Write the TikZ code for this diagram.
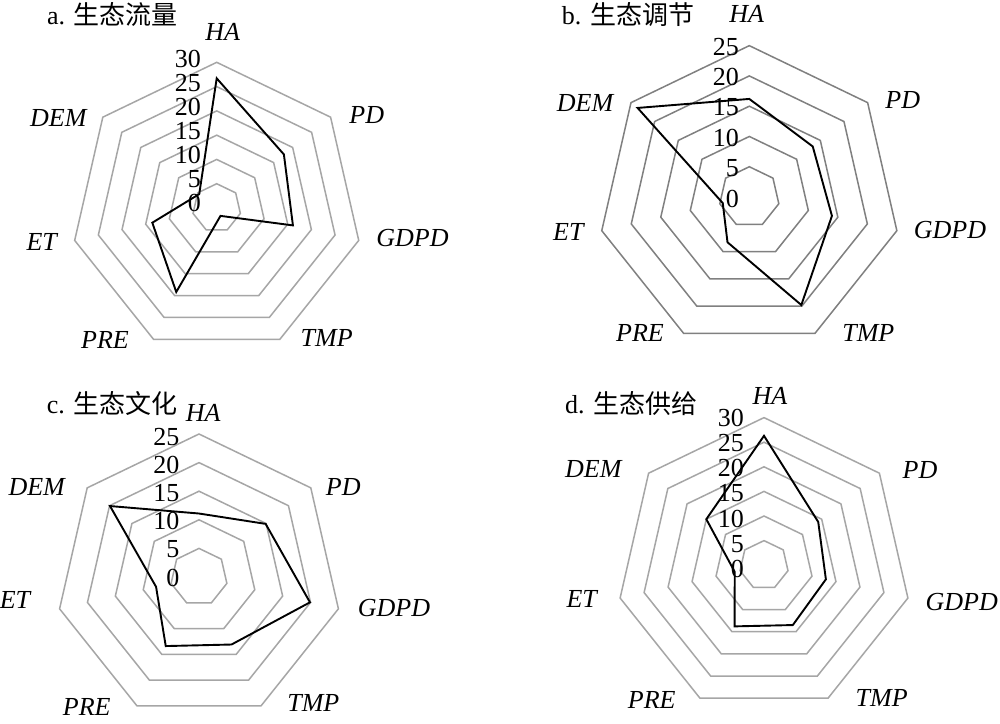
\documentclass[tikz,border=0pt]{standalone}
\usepackage{fontspec}
\setmainfont{Liberation Serif}
\newfontfamily\cjk{Noto Sans CJK SC}
\begin{document}
\begin{tikzpicture}[x=1pt,y=1pt,
  lbl/.style={font=\fontsize{26}{30}\selectfont, inner sep=0pt},
  axl/.style={inner sep=0pt, font=\fontsize{26}{30}\selectfont\itshape},
  ticklbl/.style={lbl, anchor=east},
  ttl/.style={lbl, anchor=west},
  ringA/.style={draw=black!35, line width=1.5pt},
  ringB/.style={draw=black!50, line width=1.5pt},
  dataline/.style={draw=black, line width=1.9pt, line join=miter}]
\fill[white] (0,0) rectangle (1000,-723);
\useasboundingbox (0,0) rectangle (1000,-723);

% ---------- panel a ----------
\begin{scope}[shift={(216.7,-208)}]
  \foreach \i in {1,...,6}{\draw[ringA] (90:{\i*24.28}) \foreach \k in {1,...,6}{ -- ({90-\k*360/7}:{\i*24.28})} -- cycle;}
  \draw[dataline] (90:{26.7*4.856}) -- (38.571:{17.7*4.856}) -- (-12.857:{16.1*4.856}) -- (-64.286:{1.8*4.856}) -- (-115.714:{19.2*4.856}) -- (-167.143:{13.6*4.856}) -- (141.429:{4.6*4.856}) -- cycle;
\end{scope}
\foreach \v [count=\j from 0] in {0,5,...,30} \node[ticklbl] (a\v) at (201,{-(203.3-\j*24.0)}) {\v};
\node[ttl] (ta) at (47,-15) {a. {\cjk 生态流量}};
\node[axl] (aHA) at (222.7,-31.7) {HA};
\node[axl] (aPD) at (366.7,-115) {PD};
\node[axl] (aGDPD) at (412.5,-238.3) {GDPD};
\node[axl] (aTMP) at (326.7,-338) {TMP};
\node[axl] (aPRE) at (105,-340) {PRE};
\node[axl] (aET) at (41.7,-241.7) {ET};
\node[axl] (aDEM) at (58.3,-118.3) {DEM};

% ---------- panel b ----------
\begin{scope}[shift={(749.3,-197)}]
  \foreach \i in {1,...,5}{\draw[ringB] (90:{\i*30.27}) \foreach \k in {1,...,6}{ -- ({90-\k*360/7}:{\i*30.27})} -- cycle;}
  \draw[dataline] (90:{16.2*6.054}) -- (38.571:{13.4*6.054}) -- (-12.857:{14.0*6.054}) -- (-64.286:{19.8*6.054}) -- (-115.714:{8.3*6.054}) -- (-167.143:{4.5*6.054}) -- (141.429:{23.6*6.054}) -- cycle;
\end{scope}
\foreach \v [count=\j from 0] in {0,5,...,25} \node[ticklbl] (b\v) at (739,{-(198.7-\j*30.4)}) {\v};
\node[ttl] (tb) at (561.7,-15) {b. {\cjk 生态调节}};
\node[axl] (bHA) at (746.7,-14) {HA};
\node[axl] (bPD) at (902.7,-100) {PD};
\node[axl] (bGDPD) at (950,-230) {GDPD};
\node[axl] (bTMP) at (868.3,-333.3) {TMP};
\node[axl] (bPRE) at (640,-333.3) {PRE};
\node[axl] (bET) at (568.3,-231.7) {ET};
\node[axl] (bDEM) at (585,-103.3) {DEM};

% ---------- panel c ----------
\begin{scope}[shift={(199,-577)}]
  \foreach \i in {1,...,5}{\draw[ringA] (90:{\i*28.6}) \foreach \k in {1,...,6}{ -- ({90-\k*360/7}:{\i*28.6})} -- cycle;}
  \draw[dataline] (90:{11.1*5.72}) -- (38.571:{14.9*5.72}) -- (-12.857:{19.9*5.72}) -- (-64.286:{13.1*5.72}) -- (-115.714:{13.4*5.72}) -- (-167.143:{7.7*5.72}) -- (141.429:{19.9*5.72}) -- cycle;
\end{scope}
\foreach \v [count=\j from 0] in {0,5,...,25} \node[ticklbl] (c\v) at (179.5,{-(577.7-\j*28.14)}) {\v};
\node[ttl] (tc) at (46.7,-403.3) {c. {\cjk 生态文化}};
\node[axl] (cHA) at (203.3,-413.3) {HA};
\node[axl] (cPD) at (343.3,-486.7) {PD};
\node[axl] (cGDPD) at (394,-608.3) {GDPD};
\node[axl] (cTMP) at (313.3,-703.3) {TMP};
\node[axl] (cPRE) at (86.7,-706.7) {PRE};
\node[axl] (cET) at (15,-600) {ET};
\node[axl] (cDEM) at (36.7,-486.7) {DEM};

% ---------- panel d ----------
\begin{scope}[shift={(764,-565.2)}]
  \foreach \i in {1,...,6}{\draw[ringA] (90:{\i*24.6}) \foreach \k in {1,...,6}{ -- ({90-\k*360/7}:{\i*24.6})} -- cycle;}
  \draw[dataline] (90:{26.3*4.92}) -- (38.571:{14.1*4.92}) -- (-12.857:{12.9*4.92}) -- (-64.286:{13.5*4.92}) -- (-115.714:{13.8*4.92}) -- (-167.143:{6.1*4.92}) -- (141.429:{15.0*4.92}) -- cycle;
\end{scope}
\foreach \v [count=\j from 0] in {0,5,...,30} \node[ticklbl] (d\v) at (744,{-(568.7-\j*25.07)}) {\v};
\node[ttl] (td) at (565,-403.3) {d. {\cjk 生态供给}};
\node[axl] (dHA) at (770,-396) {HA};
\node[axl] (dPD) at (920,-470) {PD};
\node[axl] (dGDPD) at (961.7,-601.7) {GDPD};
\node[axl] (dTMP) at (881.7,-698.3) {TMP};
\node[axl] (dPRE) at (651.7,-700) {PRE};
\node[axl] (dET) at (581.7,-599.3) {ET};
\node[axl] (dDEM) at (593.3,-469.3) {DEM};
\end{tikzpicture}
\end{document}
